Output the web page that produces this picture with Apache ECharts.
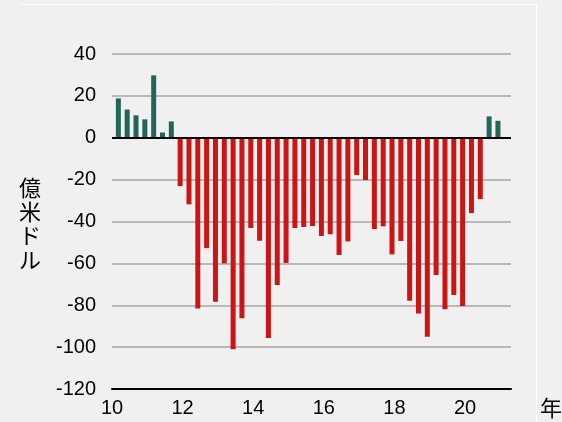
<!DOCTYPE html>
<html>
<head>
<meta charset="UTF-8">
<title>億米ドル</title>
<script src="https://cdn.jsdelivr.net/npm/echarts@6/dist/echarts.min.js"></script>
<style>
  body{margin:0;padding:0;background:#f0f0f0;}
  #main{width:562px;height:422px;}
</style>
</head>
<body>
<div id="main"></div>
<script>
// 四半期 2010Q1 - 2020Q4
var years = [10,10,10,10,11,11,11,11,12,12,12,12,13,13,13,13,14,14,14,14,15,15,15,15,
             16,16,16,16,17,17,17,17,18,18,18,18,19,19,19,19,20,20,20,20];
var quarters = [1,2,3,4,1,2,3,4,1,2,3,4,1,2,3,4,1,2,3,4,1,2,3,4,
                1,2,3,4,1,2,3,4,1,2,3,4,1,2,3,4,1,2,3,4];
var values = [18.8,13.5,10.7,8.8,29.8,2.5,7.8,-23.1,-31.8,-81.5,-52.7,-78.3,-60.0,-101,-86.2,-43.1,
              -49.2,-95.6,-70.3,-59.8,-43.1,-42.6,-42.2,-46.9,-46.1,-56.0,-49.5,-17.8,-20.2,-43.6,
              -42.3,-55.7,-49.3,-77.8,-83.9,-95.1,-65.5,-81.9,-75.1,-80.3,-36.0,-29.3,10.2,8.1];
var yTicks = [-120,-100,-80,-60,-40,-20,0,20,40];

var barData = values.map(function(v,i){
    return [years[i] + (quarters[i]-0.28)/4, v];
});

var chart = echarts.init(document.getElementById('main'));
var option = {
    backgroundColor:'#f0f0f0',
    animation:false,
    grid:{left:112,right:51,top:54,bottom:33},
    xAxis:{
        type:'value', min:10, max:21.3, interval:2,
        axisLine:{onZero:false,lineStyle:{color:'#000',width:2}},
        axisTick:{show:false},
        splitLine:{show:false},
        axisLabel:{
            showMaxLabel:false, color:'#000', fontSize:20, margin:9,
            fontFamily:'Liberation Sans, Arial, sans-serif',
            formatter:function(v){ return v%2===0 ? String(v) : ''; }
        }
    },
    yAxis:{
        type:'value', min:yTicks[0], max:yTicks[yTicks.length-1], interval:20,
        axisLine:{show:false},
        axisTick:{show:false},
        splitLine:{lineStyle:{color:'#b8b8b8',width:2}},
        axisLabel:{color:'#000',fontSize:20,margin:16,fontFamily:'Liberation Sans, Arial, sans-serif'}
    },
    series:[{
        type:'bar',
        barWidth:5,
        data:barData,
        itemStyle:{
            color:function(p){ return p.value[1] >= 0 ? '#23645a' : '#cc1414'; }
        },
        markLine:{
            silent:true, symbol:'none', label:{show:false},
            lineStyle:{color:'#000',width:2,type:'solid'},
            data:[{yAxis:0}]
        }
    }],
    graphic:[
        {type:'line',shape:{x1:21,y1:4.5,x2:536.5,y2:4.5},style:{stroke:'#fff',lineWidth:1}},
        {type:'line',shape:{x1:536.5,y1:4.5,x2:536.5,y2:422},style:{stroke:'#fff',lineWidth:1}},
        {type:'text',left:19,top:176,style:{text:'億\n米\nド\nル',font:'22px "Noto Sans CJK JP"',lineHeight:24,fill:'#000',align:'center'}},
        {type:'text',left:540,top:397,style:{text:'年',font:'22px "Noto Sans CJK JP"',fill:'#000'}}
    ]
};
chart.setOption(option);
</script>
</body>
</html>
